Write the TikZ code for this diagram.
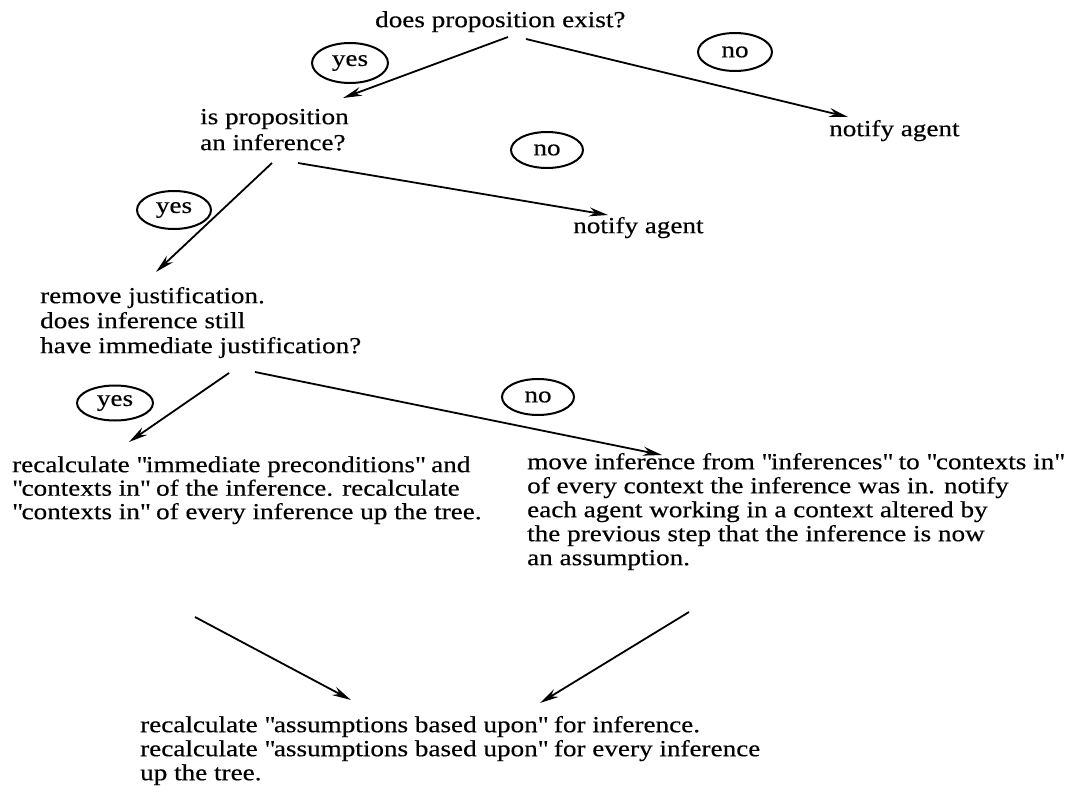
\documentclass[tikz,border=0pt]{standalone}
\usepackage{fontspec}
\setmainfont[FakeStretch=1.18,FakeBold=0.4]{Liberation Serif}
\usetikzlibrary{arrows.meta,shapes.geometric,calc}
\newcommand\firstline{\rule{0pt}{17pt}}
\newcommand\qq{\textquotedbl}
\begin{document}
\begin{tikzpicture}[x=1pt,y=-1pt,
  txt/.style={anchor=north west,inner sep=0pt,align=left,
    font=\fontsize{23}{24}\selectfont},
  answer/.style={draw,ellipse,line width=2pt,inner sep=0pt,
    font=\fontsize{23}{24}\selectfont},
  flow/.style={line width=1.8pt,-{Stealth[length=19pt,width=9pt]}}]
\useasboundingbox (0,0) rectangle (1077,797);

% questions and actions
\node[txt] (q1) at (375,10) {\firstline does proposition exist?};
\node[txt] (n1) at (829,119) {\firstline notify agent};
\node[txt,font=\fontsize{23}{26}\selectfont] (q2) at (200,107)
  {\firstline is proposition\\an inference?};
\node[txt] (n2) at (573,216) {\firstline notify agent};
\node[txt,font=\fontsize{23}{25}\selectfont] (q3) at (40,286)
  {\firstline remove justification.\\does inference still\\have immediate justification?};
\node[txt,font=\fontsize{23}{23.5}\selectfont] (a1) at (12,455)
  {\firstline recalculate \qq immediate preconditions\qq{} and\\\qq contexts in\qq{} of the inference. recalculate\\\qq contexts in\qq{} of every inference up the tree.};
\node[txt] (a2) at (527,452)
  {\firstline move inference from \qq inferences\qq{} to \qq contexts in\qq\\of every context the inference was in. notify\\each agent working in a context altered by\\the previous step that the inference is now\\an assumption.};
\node[txt] (a3) at (140,715)
  {\firstline recalculate \qq assumptions based upon\qq{} for inference.\\recalculate \qq assumptions based upon\qq{} for every inference\\up the tree.};

% yes / no labels
\node[answer,minimum width=76pt,minimum height=40pt] (y1) at (350,63) {yes};
\node[answer,minimum width=74pt,minimum height=38pt] (o1) at (735,52) {no};
\node[answer,minimum width=74pt,minimum height=38pt] (y2) at (174,210) {yes};
\node[answer,minimum width=72pt,minimum height=36pt] (o2) at (547,150) {no};
\node[answer,minimum width=76pt,minimum height=35pt] (y3) at (115,403) {yes};
\node[answer,minimum width=72pt,minimum height=36pt] (o3) at (538,397) {no};

% connectors
\draw[flow] ($(q1.north west)+(133,27)$) -- ($(q2.north west)+(143,-9)$);
\draw[flow] ($(q1.north west)+(151,29)$) -- ($(n1.north west)+(19,-2)$);
\draw[flow] ($(q2.north west)+(72,56)$) -- ($(q3.north west)+(116,-14)$);
\draw[flow] ($(q2.north west)+(98,56)$) -- ($(n2.north west)+(35,-1)$);
\draw[flow] ($(q3.north west)+(189,87)$) -- ($(a1.north west)+(117,-13)$);
\draw[flow] ($(q3.north west)+(215,86)$) -- ($(a2.north west)+(135,3)$);
\draw[flow] ($(a1.north west)+(183,162)$) -- ($(a3.north west)+(211,-15)$);
\draw[flow] ($(a2.north west)+(162,160)$) -- ($(a3.north west)+(400,-12)$);
\end{tikzpicture}
\end{document}
